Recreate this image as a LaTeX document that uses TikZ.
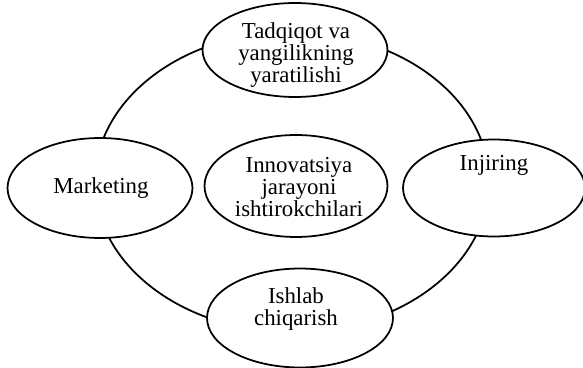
\documentclass[tikz,border=0pt]{standalone}
\usepackage{fontspec}
\setmainfont{Liberation Serif}
\usetikzlibrary{shapes.geometric}

\begin{document}
\begin{tikzpicture}[x = .02cm, y = -.02cm,
    part/.style = {ellipse, draw, line width = 1pt, fill = white, inner sep = 0pt},
    txt/.style = {align = center, inner sep = 0pt, font = \fontsize{13}{12.6}\selectfont}]
    \useasboundingbox (0,0) rectangle (583,368);
    \draw[line width = 1pt] (292,182) ellipse [x radius = 197, y radius = 150];
    \node[part, minimum width = 3.7cm, minimum height = 1.88cm] (rd) at (295,50) {};
    \node[part, minimum width = 3.7cm, minimum height = 2cm] (mkt) at (100,188) {};
    \node[part, minimum width = 3.64cm, minimum height = 1.94cm] (eng) at (494,188) {};
    \node[part, minimum width = 3.66cm, minimum height = 2.04cm] (core) at (296,186) {};
    \node[part, minimum width = 3.72cm, minimum height = 1.98cm] (prod) at (300,318) {};
    % Labels
    \node[txt] (rdtxt) at (296,55) {Tadqiqot va\\yangilikning\\yaratilishi};
    \node[txt] (mkttxt) at (101,188) {Marketing};
    \node[txt] (engtxt) at (494,165) {Injiring};
    \node[txt] (coretxt) at (299,187) {Innovatsiya\\jarayoni\\ishtirokchilari};
    \node[txt] (prodtxt) at (296,309) {Ishlab\\chiqarish};
  \end{tikzpicture}
\end{document}
